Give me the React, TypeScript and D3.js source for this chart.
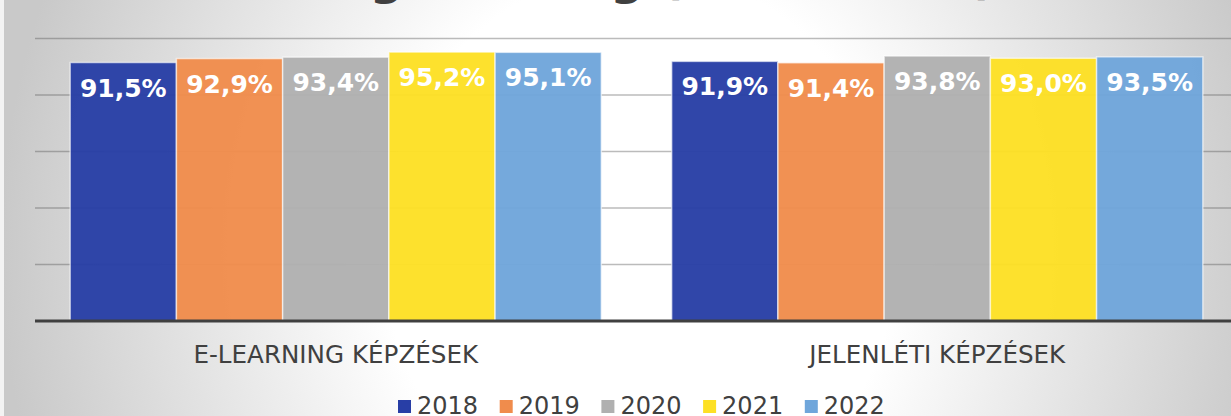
import React from "react";
import * as d3 from "d3";

const categories = ["E-LEARNING KÉPZÉSEK", "JELENLÉTI KÉPZÉSEK"];
const years = ["2018", "2019", "2020", "2021", "2022"];
const values2018 = [91.5, 91.9];
const values2019 = [92.9, 91.4];
const values2020 = [93.4, 93.8];
const values2021 = [95.2, 93.0];
const values2022 = [95.1, 93.5];
const yTicks = [20, 40, 60, 80, 100];
const colors = ["#283ea6", "#f08c4c", "#b0b0b0", "#fde024", "#6fa6db"];
const title = "Elégedettség (2018–2022)";

const seriesValues = [values2018, values2019, values2020, values2021, values2022];

const W = 1231;
const H = 416;

export default function App() {
  const x0 = d3
    .scaleBand<string>()
    .domain(categories)
    .range([35, 1238])
    .paddingInner(0.117)
    .paddingOuter(0.0585);
  const x1 = d3.scaleBand<string>().domain(years).range([0, x0.bandwidth()]).padding(0);
  const y = d3.scaleLinear().domain([0, 100]).range([321, 38.5]);
  const fmt = (v: number) => d3.format(".1f")(v).replace(".", ",") + "%";

  const legendX = d3.scaleBand<string>().domain(years).range([398, 398 + 101.7 * 5]);

  return (
    <svg
      width={W}
      height={H}
      style={{ position: "absolute", left: 0, top: 0, display: "block" }}
      fontFamily="DejaVu Sans, Verdana, sans-serif"
    >
      <defs>
        <radialGradient
          id="bg"
          gradientUnits="userSpaceOnUse"
          cx={0}
          cy={0}
          r={1}
          gradientTransform="translate(640,250) scale(640,700)"
        >
          <stop offset="0" stopColor="#ffffff" />
          <stop offset="0.4" stopColor="#ffffff" />
          <stop offset="1" stopColor="#c9c9c9" />
        </radialGradient>
      </defs>
      <rect x={0} y={0} width={W} height={H} fill="#f3f3f3" />
      <rect x={4} y={-80} width={W + 40} height={H + 80} fill="url(#bg)" />

      <text
        x={642}
        y={-6.5}
        textAnchor="middle"
        fontSize={47}
        fontWeight="bold"
        letterSpacing={0.6}
        fill="#404040"
      >
        {title}
      </text>

      {yTicks.map((t) => (
        <line
          key={t}
          x1={35}
          x2={W}
          y1={y(t)}
          y2={y(t)}
          stroke="#555555"
          strokeOpacity={0.4}
          strokeWidth={1.5}
        />
      ))}

      {categories.map((c, ci) => (
        <g key={c} transform={`translate(${x0(c)},0)`}>
          {years.map((yr, si) => {
            const v = seriesValues[si][ci];
            const bx = x1(yr) as number;
            const bw = x1.bandwidth();
            return (
              <g key={yr}>
                <rect
                  x={bx}
                  y={y(v)}
                  width={bw}
                  height={y(0) - y(v)}
                  fill={colors[si]}
                  fillOpacity={0.96}
                  stroke="#ffffff"
                  strokeOpacity={0.6}
                  strokeWidth={1.5}
                />
                <text
                  x={bx + bw / 2}
                  y={y(v) + 34}
                  textAnchor="middle"
                  fontSize={25}
                  fontWeight="bold"
                  fill="#ffffff"
                >
                  {fmt(v)}
                </text>
              </g>
            );
          })}
          <text
            x={x0.bandwidth() / 2}
            y={363}
            textAnchor="middle"
            fontSize={24.6}
            fill="#404040"
          >
            {c}
          </text>
        </g>
      ))}

      <line x1={35} x2={W} y1={321} y2={321} stroke="#404040" strokeWidth={3} />

      {years.map((yr, si) => (
        <g key={yr} transform={`translate(${legendX(yr)},0)`}>
          <rect x={0} y={400} width={13} height={13} fill={colors[si]} />
          <text x={19} y={414} fontSize={24} fill="#404040">
            {yr}
          </text>
        </g>
      ))}
    </svg>
  );
}
